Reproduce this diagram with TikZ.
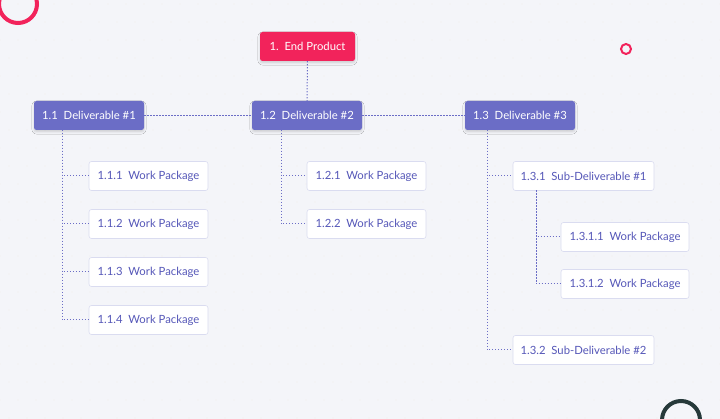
\documentclass[tikz,border=0pt]{standalone}
\usepackage{fontspec}
\setmainfont{Lato}
\usetikzlibrary{shadows.blur}
\definecolor{bg}{HTML}{F4F5F9}
\definecolor{pinkc}{HTML}{F2235B}
\definecolor{violet}{HTML}{6B6DC6}
\definecolor{txtv}{HTML}{5557B8}
\definecolor{bord}{HTML}{DADCF0}
\definecolor{darkc}{HTML}{26393A}
\tikzset{
 base/.style={rounded corners=2.5pt,minimum height=29pt,inner xsep=0pt,font=\fontsize{11.3}{13}\selectfont},
 top/.style={base,fill=pinkc,text=white,blur shadow={shadow blur steps=5,shadow xshift=0pt,shadow yshift=-2pt,shadow opacity=15}},
 deliv/.style={base,fill=violet,text=white,minimum width=110pt,blur shadow={shadow blur steps=5,shadow xshift=0pt,shadow yshift=-2pt,shadow opacity=15}},
 wp/.style={base,fill=white,draw=bord,line width=0.6pt,text=txtv},
 conn/.style={violet,dash pattern=on 1.3pt off 1.7pt,line width=1pt},
}
\begin{document}
\begin{tikzpicture}[x=1pt,y=-1pt]
\fill[bg] (0,0) rectangle (720,419);
\useasboundingbox (0,0) rectangle (720,419);
\foreach \i in {0,...,40}{\foreach \j in {0,...,23}{
 \fill[black!5] ({\i*18+(mod(\j,2))*9},{\j*18+4}) circle (0.8);}}
\draw[pinkc,line width=4pt] (18,4) circle (19);
\draw[pinkc,line width=2pt] (626,49) circle (5);
\draw[darkc,line width=4pt] (681,420) circle (19);

\node[top,minimum width=95pt] (e) at (307.5,46.5) {1.\ \ End Product};
\node[deliv] (d1) at (89,115.5) {1.1\ \ Deliverable \#1};
\node[deliv] (d2) at (307,115.5) {1.2\ \ Deliverable \#2};
\node[deliv] (d3) at (520,115.5) {1.3\ \ Deliverable \#3};
\foreach \k/\y in {1/176,2/224,3/272,4/320}
 \node[wp,minimum width=119pt] (a\k) at (148.5,\y) {1.1.\k\ \ Work Package};
\foreach \k/\y in {1/176,2/224}
 \node[wp,minimum width=119pt] (b\k) at (366.5,\y) {1.2.\k\ \ Work Package};
\node[wp,minimum width=141pt] (c1) at (583.5,176) {1.3.1\ \ Sub-Deliverable \#1};
\node[wp,minimum width=141pt] (c2) at (583.5,350) {1.3.2\ \ Sub-Deliverable \#2};
\node[wp,minimum width=128pt] (s1) at (625,237) {1.3.1.1\ \ Work Package};
\node[wp,minimum width=128pt] (s2) at (625,284) {1.3.1.2\ \ Work Package};

\draw[conn] (e) -- (d2);
\draw[conn] (d1) -- (d2);
\draw[conn] (d2) -- (d3);
\foreach \k in {1,...,4} \draw[conn] (62,130) |- (a\k.west);
\foreach \k in {1,2} \draw[conn] (281,130) |- (b\k.west);
\foreach \k in {c1,c2} \draw[conn] (487,130) |- (\k.west);
\foreach \k in {s1,s2} \draw[conn] (536,190.5) |- (\k.west);
\end{tikzpicture}
\end{document}
